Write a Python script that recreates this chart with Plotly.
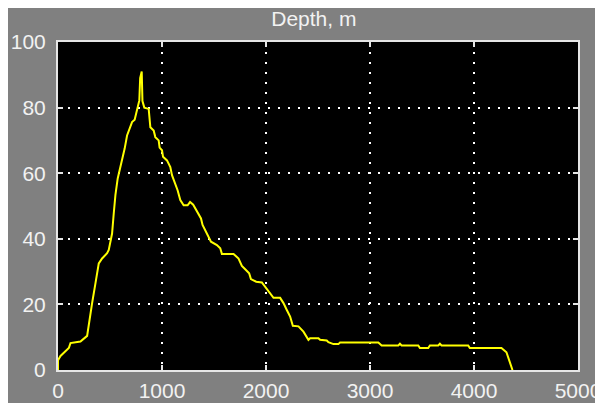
import plotly.graph_objects as go

# Data
distance = [0, 0, 24, 104, 120, 216, 280, 296, 328, 360,
            392, 424, 472, 488, 520, 536, 552, 574, 600, 616,
            641, 664, 689, 712, 737, 760, 782, 790, 805, 812,
            830, 872, 888, 920, 936, 968, 977, 1000, 1010, 1048,
            1080, 1096, 1128, 1150, 1176, 1208, 1246, 1270, 1300, 1340,
            1375, 1390, 1423, 1448, 1471, 1528, 1560, 1576, 1688, 1736,
            1768, 1800, 1838, 1855, 1906, 1960, 1992, 2014, 2040, 2072,
            2136, 2168, 2200, 2232, 2258, 2312, 2360, 2392, 2408, 2424,
            2504, 2520, 2584, 2600, 2648, 2696, 2712, 3080, 3112, 3272,
            3288, 3304, 3464, 3480, 3560, 3576, 3656, 3672, 3688, 3944,
            3960, 4264, 4312, 4337, 4370]
depth = [0, 3, 4.3, 6.7, 8.2, 8.7, 10.4, 13.3, 20.4, 26.4,
         32.5, 34, 35.6, 36.6, 41.6, 47.7, 53.3, 58.4, 61.9, 63.9,
         67.5, 71.5, 74, 75.6, 76.3, 79.1, 82.2, 89, 91, 82,
         80, 79.6, 74, 73, 71, 70, 67.8, 67, 65, 63.9,
         61.9, 59.4, 56.8, 54.8, 51.8, 50.2, 50.2, 51.2, 50.4, 48.2,
         46.2, 44.2, 42.1, 40.6, 39.1, 38.1, 37.1, 35.4, 35.4, 34,
         31.7, 30.7, 29.5, 27.7, 26.9, 26.7, 25.4, 24.4, 23.4, 22,
         22, 20.4, 18.3, 16.3, 13.5, 13.3, 11.7, 10.2, 9.2, 9.7,
         9.7, 9.2, 9, 8.5, 7.9, 7.9, 8.4, 8.4, 7.5, 7.5,
         8, 7.5, 7.5, 6.7, 6.7, 7.5, 7.5, 8, 7.5, 7.5,
         6.7, 6.7, 5.4, 3.1, 0]

x_ticks = [0, 1000, 2000, 3000, 4000, 5000]
y_ticks = [0, 20, 40, 60, 80, 100]
title_text = "Depth, m"

FONT = "Liberation Sans, Arial, sans-serif"
TXT = "#f2f2f2"
GRAY = "#808080"

fig = go.Figure()
fig.add_trace(go.Scatter(
    x=distance, y=depth, mode="lines",
    line=dict(color="#ffff00", width=2),
    hoverinfo="skip", showlegend=False,
))

axis_common = dict(
    showline=True, linecolor="#e6e6e6", linewidth=2, mirror="ticks",
    ticks="inside", ticklen=5, tickwidth=2, tickcolor="#e6e6e6",
    showgrid=True, gridcolor="#ffffff", gridwidth=1.5, griddash="2px,8px",
    zeroline=False, tickfont=dict(family=FONT, size=21, color=TXT),
    fixedrange=True,
)

fig.update_xaxes(range=[0, 5000], tickvals=x_ticks,
                 ticktext=[str(v) for v in x_ticks], ticklabelstandoff=1,
                 **axis_common)
fig.update_yaxes(range=[0, 100], tickvals=y_ticks,
                 ticktext=[str(v) for v in y_ticks], ticklabelstandoff=6,
                 **axis_common)

fig.update_layout(
    width=595, height=395,
    margin=dict(l=50, r=25, t=34, b=33, autoexpand=False),
    paper_bgcolor=GRAY, plot_bgcolor="#000000",
    title=dict(text=title_text, x=0.514, xanchor="center",
               y=1 - 11 / 395, yanchor="middle", yref="container",
               font=dict(family=FONT, size=21, color=TXT)),
)

fig.write_html("out.html")
